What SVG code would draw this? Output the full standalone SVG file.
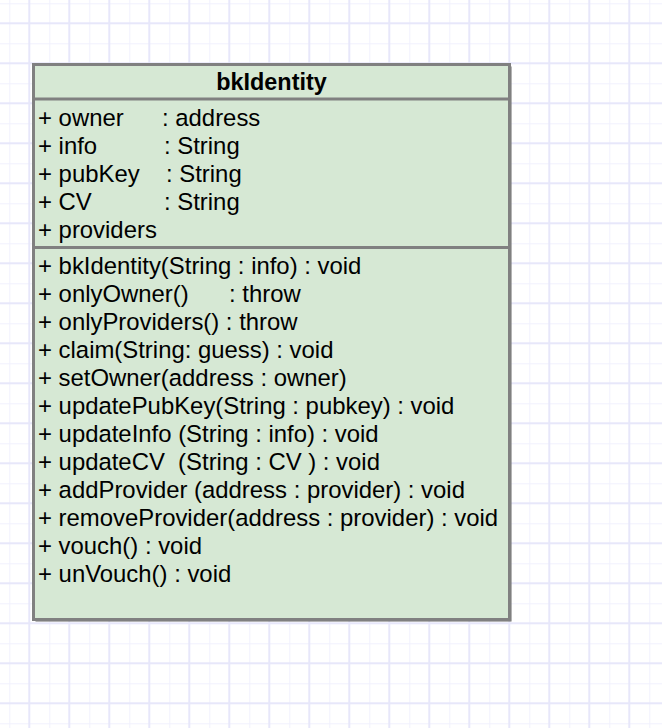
<svg xmlns="http://www.w3.org/2000/svg" width="662" height="728" viewBox="0 0 662 728">
<defs>
<pattern id="grid" x="0" y="0" width="40" height="40" patternUnits="userSpaceOnUse" patternTransform="translate(9.3 3.3)">
<rect width="40" height="40" fill="#ffffff"/>
<line x1="0" y1="0" x2="0" y2="40" stroke="#f1f1fd" stroke-width="2"/>
<line x1="0" y1="0" x2="40" y2="0" stroke="#f1f1fd" stroke-width="2"/>
<line x1="20" y1="0" x2="20" y2="40" stroke="#e7e7fa" stroke-width="2"/>
<line x1="0" y1="20" x2="40" y2="20" stroke="#e7e7fa" stroke-width="2"/>
</pattern>
<style>
.t{font-family:"Liberation Sans",Arial,Helvetica,sans-serif;font-size:23.9px;fill:#000}
.h{font-weight:bold;text-anchor:middle;font-size:23.4px}
.box{fill:#d6e8d4;stroke:#808080;stroke-width:3}
.sep{stroke:#808080;stroke-width:3}
</style>
</defs>
<rect width="662" height="728" fill="url(#grid)"/>
<g id="bkIdentity">
<rect x="35.5" y="66.5" width="476" height="555" fill="#6a6a6a"/>
<rect class="box" x="33.5" y="64.5" width="476" height="555"/>
<line class="sep" x1="33.5" y1="99" x2="509.5" y2="99"/>
<line class="sep" x1="33.5" y1="247.5" x2="509.5" y2="247.5"/>
<text class="t h" x="271.5" y="89.5">bkIdentity</text>
<text class="t" x="38" y="126">+ owner<tspan x="162">: address</tspan></text>
<text class="t" x="38" y="154">+ info<tspan x="164">: String</tspan></text>
<text class="t" x="38" y="182">+ pubKey<tspan x="166">: String</tspan></text>
<text class="t" x="38" y="210">+ CV<tspan x="164">: String</tspan></text>
<text class="t" x="38" y="238">+ providers</text>
<text class="t" x="38" y="274">+ bkIdentity(String : info) : void</text>
<text class="t" x="38" y="302">+ onlyOwner()<tspan x="229">: throw</tspan></text>
<text class="t" x="38" y="330">+ onlyProviders() : throw</text>
<text class="t" x="38" y="358">+ claim(String: guess) : void</text>
<text class="t" x="38" y="386">+ setOwner(address : owner)</text>
<text class="t" x="38" y="414">+ updatePubKey(String : pubkey) : void</text>
<text class="t" x="38" y="442">+ updateInfo (String : info) : void</text>
<text class="t" x="38" y="470" xml:space="preserve">+ updateCV  (String : CV ) : void</text>
<text class="t" x="38" y="498">+ addProvider (address : provider) : void</text>
<text class="t" x="38" y="526">+ removeProvider(address : provider) : void</text>
<text class="t" x="38" y="554">+ vouch() : void</text>
<text class="t" x="38" y="582">+ unVouch() : void</text>
</g>
<g id="connectors"/>
</svg>
